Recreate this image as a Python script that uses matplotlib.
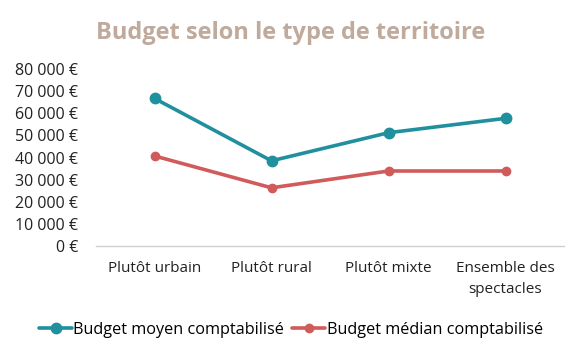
import matplotlib
matplotlib.use("Agg")
import matplotlib.pyplot as plt
from matplotlib.ticker import FuncFormatter

categories = ["Plutôt urbain", "Plutôt rural", "Plutôt mixte", "Ensemble des\nspectacles"]
moyen = [66700, 38500, 51200, 57700]
median = [40700, 26300, 33900, 33900]
series_names = ["Budget moyen comptabilisé", "Budget médian comptabilisé"]

plt.rcParams['font.family'] = ['Open Sans', 'DejaVu Sans']

fig = plt.figure(figsize=(5.82, 3.56), dpi=100)
ax = fig.add_axes([96/582, 1-246/356, (564-96)/582, (246-69)/356])

x = list(range(len(categories)))
ax.plot(x, moyen, color="#21909E", lw=2.6, marker="o", ms=7.5, label=series_names[0], solid_capstyle="round")
ax.plot(x, median, color="#D15A5A", lw=2.6, marker="o", ms=6, label=series_names[1], solid_capstyle="round")

ax.set_xlim(-0.5, len(categories) - 0.5)
ax.set_ylim(0, 80000)
ax.set_yticks(range(0, 80001, 10000))
ax.yaxis.set_major_formatter(FuncFormatter(lambda v, p: f"{int(v):,} €".replace(",", " ")))
ax.set_xticks(x)
ax.set_xticklabels(categories, linespacing=1.55)
ax.tick_params(axis="y", length=0, pad=13, labelsize=11.5, colors="#222222")
ax.tick_params(axis="x", length=0, pad=11, labelsize=11, colors="#222222")
for s in ["top", "right", "left"]:
    ax.spines[s].set_visible(False)
ax.spines["bottom"].set_color("#D0D0D0")
ax.spines["bottom"].set_linewidth(1)

fig.text(0.5, 1-33/356, "Budget selon le type de territoire", ha="center", va="center",
         fontsize=17, fontweight="bold", color="#BFAA9C")

fig.legend(loc="center", bbox_to_anchor=(0.5, 1-330/356), ncol=2, frameon=False,
           fontsize=11.7, handlelength=2.0, handletextpad=0.1, columnspacing=0.5)

fig.savefig("out.png", dpi=100)
